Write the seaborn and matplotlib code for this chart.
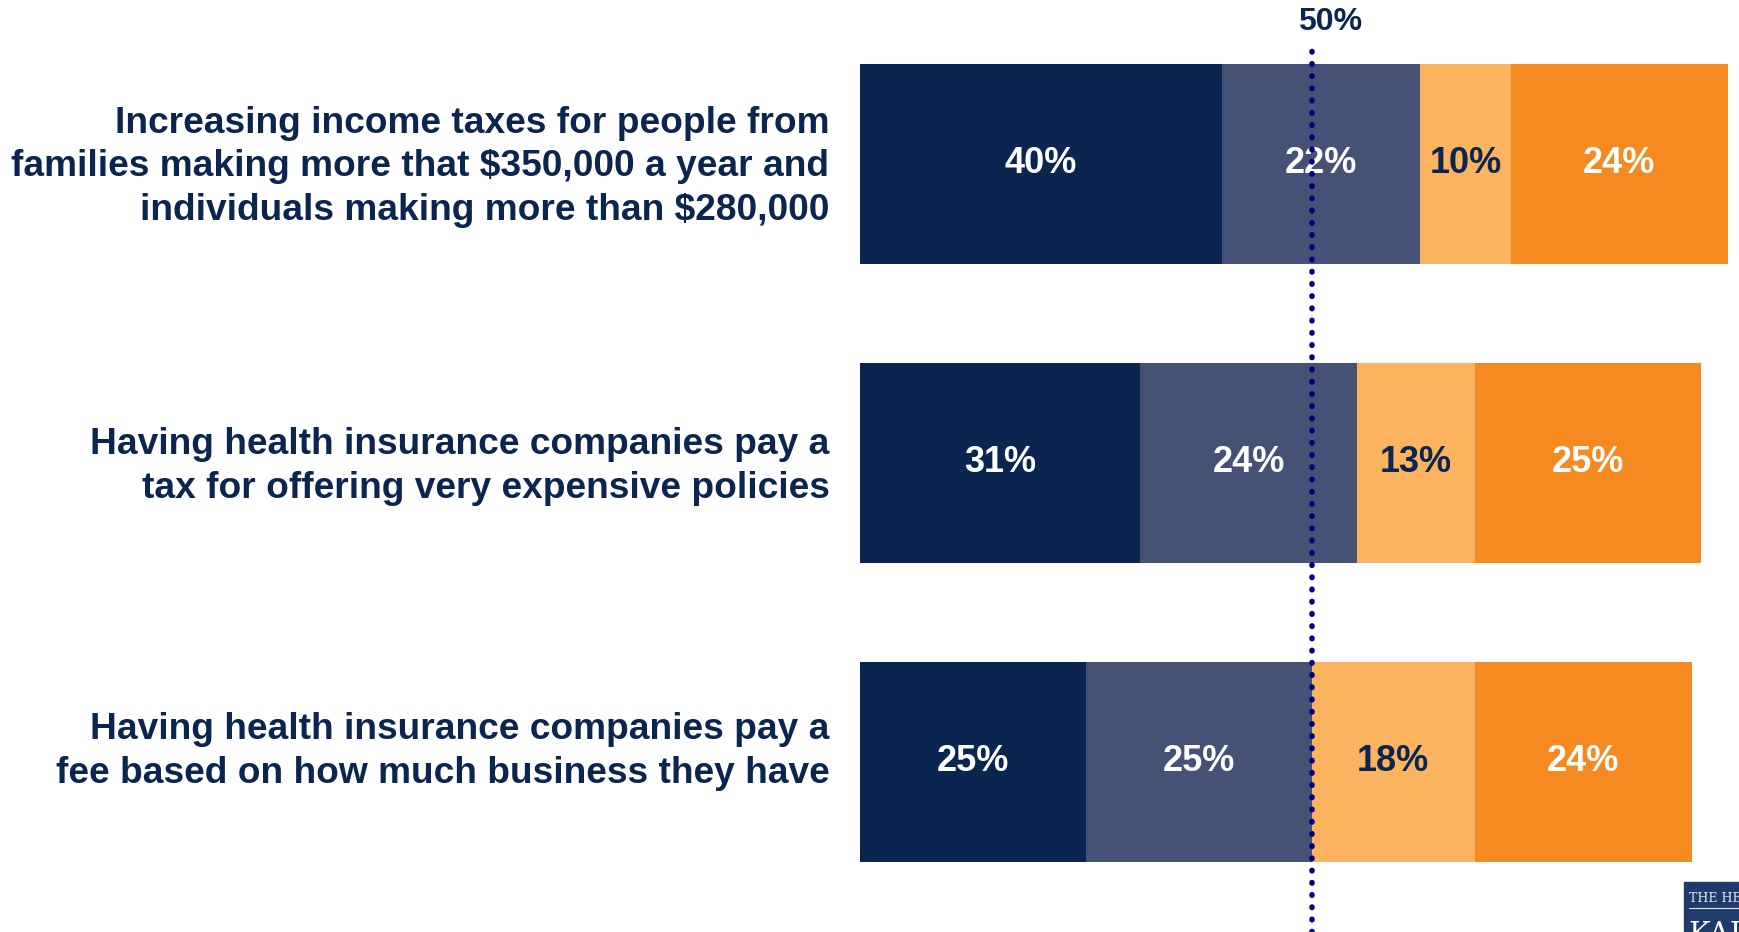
import numpy as np
import pandas as pd
import matplotlib
matplotlib.use('Agg')
import matplotlib.pyplot as plt
import matplotlib.transforms as mtransforms
from matplotlib.patches import Rectangle
import seaborn as sns

sns.set_style('white')
plt.rcParams['font.family'] = ['Liberation Sans', 'DejaVu Sans']
plt.rcParams['font.weight'] = 'bold'

items = ['Increasing income taxes for people from\nfamilies making more that $350,000 a year and\nindividuals making more than $280,000',
         'Having health insurance companies pay a\ntax for offering very expensive policies',
         'Having health insurance companies pay a\nfee based on how much business they have']
strongly_favor = [40, 31, 25]
somewhat_favor = [22, 24, 25]
somewhat_oppose = [10, 13, 18]
strongly_oppose = [24, 25, 24]

series = ['Strongly favor', 'Somewhat favor', 'Somewhat oppose', 'Strongly oppose']
colors = ['#0a2550', '#465275', '#fbb35f', '#f6891f']
label_colors = ['white', 'white', '#0a2550', 'white']
navy = '#0a2550'

df = pd.DataFrame({'item': items,
                   'Strongly favor': strongly_favor,
                   'Somewhat favor': somewhat_favor,
                   'Somewhat oppose': somewhat_oppose,
                   'Strongly oppose': strongly_oppose})
cum = df[series].cumsum(axis=1)

fig = plt.figure(figsize=(17.4, 9.32), dpi=100)
ax = fig.add_axes([860/1740, 0, (1764-860)/1740, 890/932])

# stacked bars: draw cumulative totals from the back to the front
for s, c in reversed(list(zip(series, colors))):
    sns.barplot(x=cum[s], y=df['item'], orient='h', color=c, width=0.668,
                saturation=1, linewidth=0, ax=ax)

# value labels in the middle of each segment
for i in range(len(items)):
    for s, lc in zip(series, label_colors):
        v = df.loc[i, s]
        mid = cum.loc[i, s] - v / 2
        ax.text(mid, i, f'{v}%', ha='center', va='center', color=lc,
                fontsize=26, fontweight='bold')

ax.axvline(50, color='#000080', lw=4, linestyle=(0, (0.1, 2.1)),
           dash_capstyle='round', zorder=5)
ax.text(48.4, 1.022, '50%', transform=ax.get_xaxis_transform(), ha='left',
        va='center', color=navy, fontsize=23, fontweight='bold', clip_on=False)

ax.set_xlim(0, 100)
ax.set_ylim(2.569, -0.408)
ax.set_xlabel('')
ax.set_ylabel('')
ax.set_xticks([])
ax.tick_params(axis='y', length=0, pad=22)
# the labels sit a little above the bar centres in the source
shifts = [0.055, 0.05, 0.19]
for lab, dy in zip(ax.get_yticklabels(), shifts):
    lab.set_fontsize(26.7)
    lab.set_fontweight('bold')
    lab.set_color(navy)
    lab.set_linespacing(1.33)
    lab.set_transform(lab.get_transform() +
                      mtransforms.ScaledTranslation(0, dy, fig.dpi_scale_trans))
sns.despine(ax=ax, left=True, bottom=True)

# logo corner (partly cut off by the figure edge, as in the source)
fig.patches.append(Rectangle((1684/1740, 0), 60/1740, 50/932, transform=fig.transFigure,
                             color='#1f3b6b', zorder=10))
fig.text(1689/1740, (932-902)/932, 'THE HENRY J.', color='#dfe4ee', fontsize=9,
         family='DejaVu Serif', fontweight='normal', zorder=11)
fig.add_artist(plt.Line2D([1689/1740, 1.0], [(932-908)/932]*2, color='#dfe4ee', lw=0.8,
                          transform=fig.transFigure, zorder=11))
fig.text(1688/1740, -0.012, 'KAISER', color='#ffffff', fontsize=21,
         family='DejaVu Serif', fontweight='normal', zorder=11)

fig.savefig('out.png', dpi=100)
